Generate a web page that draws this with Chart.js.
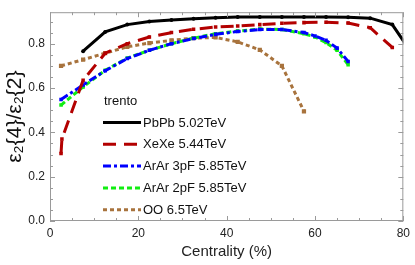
<!DOCTYPE html>
<html>
<head>
<meta charset="utf-8">
<script src="https://cdn.jsdelivr.net/npm/chart.js@4.4.1/dist/chart.umd.min.js"></script>
<style>
  html, body { margin: 0; padding: 0; background: #fff; }
  #wrap { width: 415px; height: 265px; position: relative; }
</style>
</head>
<body>
<div id="wrap"><canvas id="c"></canvas></div>
<script>
// ---- datos ----
const pbX = [7.5, 12.5, 17.5, 22.5, 27.5, 32.5, 37.5, 42.5, 47.5, 52.5, 57.5, 62.5, 67.5, 72.5, 77.5, 82.5];
const pbY = [0.766, 0.853, 0.886, 0.900, 0.907, 0.913, 0.917, 0.920, 0.920, 0.920, 0.920, 0.920, 0.919, 0.915, 0.886, 0.74];

const xeX = [2.5, 2.7, 7.5, 12.5, 17.5, 22.5, 27.5, 32.5, 37.5, 42.5, 47.5, 52.5, 57.5, 62.5, 67.5, 72.5, 77.5];
const xeY = [0.305, 0.37, 0.635, 0.757, 0.800, 0.830, 0.850, 0.865, 0.875, 0.880, 0.886, 0.892, 0.895, 0.897, 0.893, 0.872, 0.783];

const arX = [2.5, 7.5, 12.5, 17.5, 22.5, 27.5, 32.5, 37.5, 42.5, 47.5, 52.5, 57.5, 60, 62.5, 65, 67.5];
const ar3Y = [0.548, 0.614, 0.678, 0.733, 0.770, 0.800, 0.823, 0.842, 0.855, 0.864, 0.864, 0.850, 0.835, 0.815, 0.780, 0.720];
const ar2Y = [0.523, 0.605, 0.680, 0.735, 0.770, 0.800, 0.825, 0.845, 0.857, 0.866, 0.864, 0.845, 0.830, 0.805, 0.770, 0.705];

const ooX = [2.5, 7.5, 12.5, 17.5, 22.5, 27.5, 32.5, 37.5, 42.5, 47.5, 52.5, 57.5];
const ooY = [0.700, 0.728, 0.757, 0.786, 0.803, 0.815, 0.825, 0.828, 0.808, 0.772, 0.700, 0.495];

const xTicks = [0, 20, 40, 60, 80];
const yTicks = [0.0, 0.2, 0.4, 0.6, 0.8];
const legendTitle = 'trento';

function pts(xs, ys){ return xs.map((x, i) => ({ x: x, y: ys[i] })); }

const FONT = "'Liberation Sans', Arial, sans-serif";

// ---- marco + ticks hacia dentro (estilo Mathematica) ----
const framePlugin = {
  id: 'frame',
  afterDraw(chart){
    const { ctx, chartArea: a, scales } = chart;
    ctx.save();
    ctx.strokeStyle = '#9a9a9a';
    ctx.lineWidth = 1;
    ctx.strokeRect(a.left + 0.5, a.top + 0.5, a.right - a.left - 1, a.bottom - a.top - 1);
    ctx.beginPath();
    for (let v = 0; v <= 80; v += 5) {
      const px = Math.round(scales.x.getPixelForValue(v)) + 0.5;
      const len = v % 20 === 0 ? 5 : 3;
      ctx.moveTo(px, a.bottom); ctx.lineTo(px, a.bottom - len);
      ctx.moveTo(px, a.top); ctx.lineTo(px, a.top + len);
    }
    for (let v = 0; v <= 0.94; v += 0.05) {
      const py = Math.round(scales.y.getPixelForValue(v)) + 0.5;
      const len = Math.round(v * 100) % 20 === 0 ? 5 : 3;
      ctx.moveTo(a.left, py); ctx.lineTo(a.left + len, py);
      ctx.moveTo(a.right, py); ctx.lineTo(a.right - len, py);
    }
    ctx.stroke();
    ctx.restore();
  }
};

// ---- leyenda dentro del area ----
const legendPlugin = {
  id: 'inlegend',
  afterDraw(chart){
    const ctx = chart.ctx;
    ctx.save();
    ctx.font = '13px ' + FONT;
    ctx.fillStyle = '#111';
    ctx.textBaseline = 'middle';
    ctx.fillText(legendTitle, 104, 101);
    chart.data.datasets.forEach((ds, i) => {
      const y = 122.5 + i * 21.8;
      ctx.beginPath();
      ctx.setLineDash(ds.borderDash || []);
      ctx.strokeStyle = ds.borderColor;
      ctx.lineWidth = ds.borderWidth;
      ctx.moveTo(103, y); ctx.lineTo(141, y);
      ctx.stroke();
      ctx.setLineDash([]);
      ctx.fillStyle = '#111';
      ctx.fillText(ds.label, 143, y + 0.5);
    });
    ctx.restore();
  }
};

const datasets = [
  { label: 'PbPb 5.02TeV', data: pts(pbX, pbY), borderColor: '#000000', backgroundColor: '#000000',
    borderWidth: 3, pointStyle: 'circle', pointRadius: 2 },
  { label: 'XeXe 5.44TeV', data: pts(xeX, xeY), borderColor: '#b30000', backgroundColor: '#b30000',
    borderWidth: 3, borderDash: [13, 8], pointStyle: 'rect', pointRadius: 2.5 },
  { label: 'ArAr 3pF 5.85TeV', data: pts(arX, ar3Y), borderColor: '#0000ff', backgroundColor: '#0000ff',
    borderWidth: 3, borderDash: [8, 3, 3, 3], pointStyle: 'rect', pointRadius: 2.5 },
  { label: 'ArAr 2pF 5.85TeV', data: pts(arX, ar2Y), borderColor: '#11ee11', backgroundColor: '#11ee11',
    borderWidth: 3, borderDash: [5, 3], pointStyle: 'rect', pointRadius: 2.5 },
  { label: 'OO 6.5TeV', data: pts(ooX, ooY), borderColor: '#a8733d', backgroundColor: '#a8733d',
    borderWidth: 3, borderDash: [4, 3], pointStyle: 'rect', pointRadius: 3 }
];
datasets.forEach(d => { d.fill = false; d.tension = 0; d.pointBorderWidth = 0; });

new Chart(document.getElementById('c'), {
  type: 'line',
  data: { datasets: datasets },
  options: {
    responsive: true,
    maintainAspectRatio: false,
    animation: false,
    layout: { padding: { top: 2, right: 9, left: 0, bottom: 0 } },
    plugins: { legend: { display: false }, tooltip: { enabled: false } },
    scales: {
      x: {
        type: 'linear', min: 0, max: 80,
        grid: { display: false, drawTicks: false },
        border: { display: false },
        afterBuildTicks: s => { s.ticks = xTicks.map(v => ({ value: v })); },
        afterFit: s => { s.height = 44; },
        ticks: { padding: 5, color: '#222', font: { family: FONT, size: 12 }, maxRotation: 0 },
        title: { display: true, text: 'Centrality (%)', color: '#222', padding: { top: 0 },
                 font: { family: FONT, size: 15 } }
      },
      y: {
        min: 0, max: 0.942,
        grid: { display: false, drawTicks: false },
        border: { display: false },
        afterBuildTicks: s => { s.ticks = yTicks.map(v => ({ value: v })); },
        afterFit: s => { s.width = 50; },
        ticks: { padding: 5, color: '#222', font: { family: FONT, size: 12 },
                 callback: v => Number(v).toFixed(1) },
        title: { display: true, text: 'ε₂{4}/ε₂{2}', color: '#111', padding: { bottom: 0, top: 3 },
                 font: { family: FONT, size: 21 } }
      }
    }
  },
  plugins: [framePlugin, legendPlugin]
});
</script>
</body>
</html>
